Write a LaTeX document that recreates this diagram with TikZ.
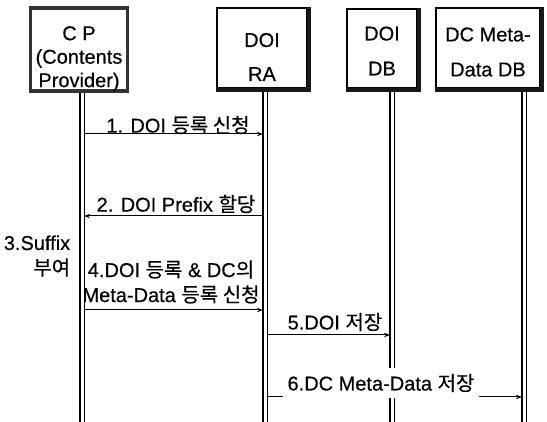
\documentclass[tikz,border=0pt]{standalone}
\usepackage{fontspec}
\setmainfont{Liberation Sans}[BoldFont=Liberation Sans, BoldFeatures={FakeBold=0.4}]
\newfontfamily\kr{Noto Sans CJK KR}[BoldFont=Noto Sans CJK KR, BoldFeatures={FakeBold=0.3}]
\usetikzlibrary{arrows.meta}
\begin{document}
\begin{tikzpicture}[x=1pt,y=-1pt,
  box/.style={draw, line width=1.2pt, fill=white, inner sep=0pt},
  boxshadow/.style={line width=3.5pt, draw=black!90},
  boxtext/.style={inner sep=0pt, align=center, font=\fontsize{20}{24}\selectfont\bfseries},
  lifeA/.style={line width=1.7pt},
  lifeB/.style={line width=1.1pt},
  msg/.style={line width=1pt, -{Stealth[length=6pt,width=4.5pt]}},
  lbl/.style={font=\fontsize{20}{25}\selectfont\bfseries, inner sep=0pt, align=center}]
\useasboundingbox (0,0) rectangle (547,422);
% lifelines (double lines)
\foreach \n/\x in {cp/82, ra/265, db/392, dc/524}{
  \coordinate (\n T) at (\x,60);
  \coordinate (\n B) at (\x,422);
  \draw[lifeA] ([xshift=-2.3pt]\n T) -- ([xshift=-2.3pt]\n B);
  \draw[lifeB] ([xshift=2.3pt]\n T) -- ([xshift=2.3pt]\n B);
}
% boxes
\node[box, draw=black!80, line width=3.2pt, minimum width=97pt, minimum height=83pt] (cp) at (79,49.5) {};
\node[box, minimum width=90pt, minimum height=80pt] (ra) at (262,48) {};
\node[box, minimum width=70pt, minimum height=79pt] (db) at (382,48.5) {};
\node[box, minimum width=104pt, minimum height=80pt] (dc) at (488,48) {};
\draw[boxshadow] ([xshift=1.6pt]ra.north east) -- ([xshift=1.6pt,yshift=-1.6pt]ra.south east) -- ([yshift=-1.6pt]ra.south west);
\draw[boxshadow] ([xshift=1.6pt]db.north east) -- ([xshift=1.6pt,yshift=-1.6pt]db.south east) -- ([yshift=-1.6pt]db.south west);
\draw[boxshadow] ([xshift=1.6pt]dc.north east) -- ([xshift=1.6pt,yshift=-1.6pt]dc.south east) -- ([yshift=-1.6pt]dc.south west);
\node[boxtext, font=\fontsize{20}{23.5}\selectfont\bfseries] (cpt) at (79,59)
  {\begin{tabular}{@{}c@{}}C P\\(Contents\\Provider)\end{tabular}};
\node[boxtext] (rat) at (262,57) {DOI\\[10pt]RA};
\node[boxtext] (dbt) at (382,51) {DOI\\[11pt]DB};
\node[boxtext] (dct) at (488,52) {DC Meta-\\[11pt]Data DB};
% message anchors
\coordinate (m1a) at (84,134);  \coordinate (m1b) at (263,134);
\coordinate (m2a) at (263,216); \coordinate (m2b) at (84,216);
\coordinate (m4a) at (84,310);  \coordinate (m4b) at (263,310);
\coordinate (m5a) at (267,335); \coordinate (m5b) at (390,335);
\coordinate (m6a) at (267,397); \coordinate (m6b) at (522,397);
\draw[msg] (m1a) -- (m1b);
\draw[msg] (m2a) -- (m2b);
\draw[msg] (m4a) -- (m4b);
\draw[msg] (m5a) -- (m5b);
\draw[msg] (m6a) -- (m6b);
% labels
\node[lbl] (l1) at (178,125) {1. DOI {\kr 등록 신청}};
\node[lbl] (l2) at (176,204) {2. DOI Prefix {\kr 할당}};
\node[lbl, align=right] (l3) at (37,256) {3.Suffix\\{\kr 부여}\hspace{9pt}};
\node[lbl] (l4) at (171,282) {4.DOI {\kr 등록} \& DC{\kr 의}\\Meta-Data {\kr 등록 신청}};
\node[lbl] (l5) at (335,322) {5.DOI {\kr 저장}};
\node[lbl, fill=white, minimum width=196pt, minimum height=30pt] (l6) at (381,383)
  {6.DC Meta-Data {\kr 저장}};
\end{tikzpicture}
\end{document}
